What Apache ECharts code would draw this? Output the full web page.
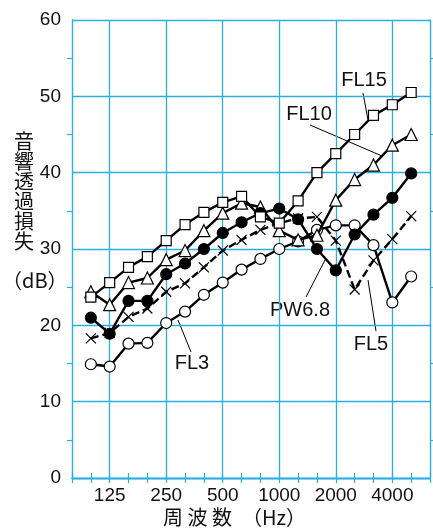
<!DOCTYPE html>
<html>
<head>
<meta charset="utf-8">
<script src="https://cdn.jsdelivr.net/npm/echarts@6/dist/echarts.min.js"></script>
<style>
  html, body { margin: 0; padding: 0; background: #fff; }
  #chart { width: 433px; height: 530px; }
</style>
</head>
<body>
<div id="chart"></div>
<script>
// One-third octave band centre frequencies (Hz)
const bands = ['80', '100', '125', '160', '200', '250', '315', '400', '500', '630',
               '800', '1000', '1250', '1600', '2000', '2500', '3150', '4000', '5000', '6300'];
// Octave bands that get a label and a grid line
const octaveLabels = ['125', '250', '500', '1000', '2000', '4000'];
const yTicks = { min: 0, max: 60, step: 10 };

// Sound transmission loss (dB), 100 Hz – 5000 Hz
const fl15  = [23.7, 25.6, 27.6, 29.0, 31.1, 33.2, 34.8, 36.1, 36.9, 34.2, 33.4, 36.3, 40.0, 42.5, 45.0, 47.5, 48.9, 50.5];
const fl10  = [24.4, 22.7, 25.6, 26.2, 28.6, 29.8, 32.4, 34.7, 36.0, 35.5, 32.4, 31.2, 31.8, 36.4, 39.1, 41.0, 43.6, 45.0];
const pw68  = [21.0, 18.9, 23.2, 23.2, 26.7, 28.1, 30.0, 32.1, 33.5, 34.7, 35.3, 33.9, 30.0, 27.2, 31.9, 34.5, 36.7, 39.9];
const fl5   = [18.3, 19.0, 21.1, 22.2, 24.4, 25.5, 27.6, 29.8, 31.2, 32.5, 33.4, 34.0, 34.2, 31.1, 24.7, 28.5, 31.3, 34.3];
const fl3   = [14.9, 14.6, 17.6, 17.7, 20.3, 21.8, 24.0, 25.6, 27.3, 28.7, 30.0, 31.0, 32.5, 33.1, 33.1, 30.5, 23.0, 26.4];

const GRID = '#2AAEE4';
const LATIN = '"Liberation Sans", Arial, Helvetica, sans-serif';
const CJK = '"Noto Sans CJK JP", "Noto Sans", sans-serif';

// pair each value with its band (data start at 100 Hz)
const pts = vals => vals.map((v, i) => [bands[i + 1], v]);

const isOctave = (idx) => octaveLabels.indexOf(bands[idx]) >= 0;

function lineSeries(name, vals, symbol, size, fill, z, dashed) {
  return {
    name: name,
    type: 'line',
    data: pts(vals),
    symbol: symbol,
    symbolSize: size,
    showSymbol: true,
    showAllSymbol: true,
    z: z,
    lineStyle: { color: '#000', width: 2.4, type: dashed ? [8, 4] : 'solid' },
    itemStyle: { color: fill, borderColor: '#000', borderWidth: 1.2 },
    emphasis: { disabled: true }
  };
}

const xBase = {
  type: 'category',
  data: bands,
  boundaryGap: false,
  axisLine: { show: true, lineStyle: { color: GRID, width: 1.4 } },
  axisTick: { show: true, inside: true, length: 5, interval: 0, lineStyle: { color: GRID, width: 1.2 } }
};

const yBase = {
  type: 'value',
  min: yTicks.min,
  max: yTicks.max,
  interval: yTicks.step,
  axisLine: { show: true, lineStyle: { color: GRID, width: 1.4 } },
  axisTick: { show: false },
  minorTick: { show: true, splitNumber: 2, length: 5, lineStyle: { color: GRID, width: 1.2 } }
};

const chart = echarts.init(document.getElementById('chart'), null, { renderer: 'canvas' });

const option = {
  animation: false,
  backgroundColor: '#fff',
  grid: { left: 72, right: 3, top: 20, bottom: 52, containLabel: false },
  xAxis: [
    Object.assign({}, xBase, {
      position: 'bottom',
      axisLabel: {
        interval: (idx) => isOctave(idx),
        color: '#111', fontSize: 19, fontFamily: LATIN, margin: 8
      },
      splitLine: { show: true, interval: (idx) => isOctave(idx), lineStyle: { color: GRID, width: 1.3 } }
    }),
    Object.assign({}, xBase, {
      position: 'top',
      axisLabel: { show: false },
      splitLine: { show: false }
    })
  ],
  yAxis: [
    Object.assign({}, yBase, {
      position: 'left',
      axisLabel: { color: '#111', fontSize: 19, fontFamily: LATIN, margin: 11 },
      splitLine: { show: true, lineStyle: { color: GRID, width: 1.3 } }
    }),
    Object.assign({}, yBase, {
      position: 'right',
      axisLabel: { show: false },
      splitLine: { show: false }
    })
  ],
  series: [
    lineSeries('FL5', fl5, 'path://M0,0L10,10M10,0L0,10', 10, 'none', 2, true),
    lineSeries('FL3', fl3, 'circle', 11, '#fff', 3, false),
    lineSeries('FL10', fl10, 'triangle', 12, '#fff', 4, false),
    lineSeries('PW6.8', pw68, 'circle', 11, '#000', 5, false),
    lineSeries('FL15', fl15, 'rect', 10, '#fff', 6, false)
  ],
  graphic: [
    // axis titles
    { type: 'text', left: 14, top: 131, style: { text: '音\n響\n透\n過\n損\n失', font: '20px ' + CJK, lineHeight: 20, fill: '#111' } },
    { type: 'text', left: 2, top: 270, style: { text: '（dB）', font: '20px ' + CJK, fill: '#111' } },
    { type: 'text', left: 163, top: 507, style: { text: '周 波 数　（Hz）', font: '20px ' + CJK, fill: '#111' } },
    // curve labels with leader lines
    { type: 'text', x: 364, y: 80, style: { text: 'FL15', font: '20px ' + LATIN, fill: '#111', align: 'center', verticalAlign: 'middle' } },
    { type: 'line', shape: { x1: 363, y1: 93, x2: 368, y2: 120 }, style: { stroke: '#000', lineWidth: 1 } },
    { type: 'text', x: 309, y: 114, style: { text: 'FL10', font: '20px ' + LATIN, fill: '#111', align: 'center', verticalAlign: 'middle' } },
    { type: 'line', shape: { x1: 310, y1: 125, x2: 382, y2: 156 }, style: { stroke: '#000', lineWidth: 1 } },
    { type: 'text', x: 300, y: 310, style: { text: 'PW6.8', font: '20px ' + LATIN, fill: '#111', align: 'center', verticalAlign: 'middle' } },
    { type: 'line', shape: { x1: 306, y1: 297, x2: 325, y2: 260 }, style: { stroke: '#000', lineWidth: 1 } },
    { type: 'text', x: 371, y: 344, style: { text: 'FL5', font: '20px ' + LATIN, fill: '#111', align: 'center', verticalAlign: 'middle' } },
    { type: 'line', shape: { x1: 376, y1: 331, x2: 368, y2: 280 }, style: { stroke: '#000', lineWidth: 1 } },
    { type: 'text', x: 192, y: 363, style: { text: 'FL3', font: '20px ' + LATIN, fill: '#111', align: 'center', verticalAlign: 'middle' } },
    { type: 'line', shape: { x1: 191, y1: 352, x2: 178, y2: 320 }, style: { stroke: '#000', lineWidth: 1 } }
  ]
};

chart.setOption(option);
</script>
</body>
</html>
